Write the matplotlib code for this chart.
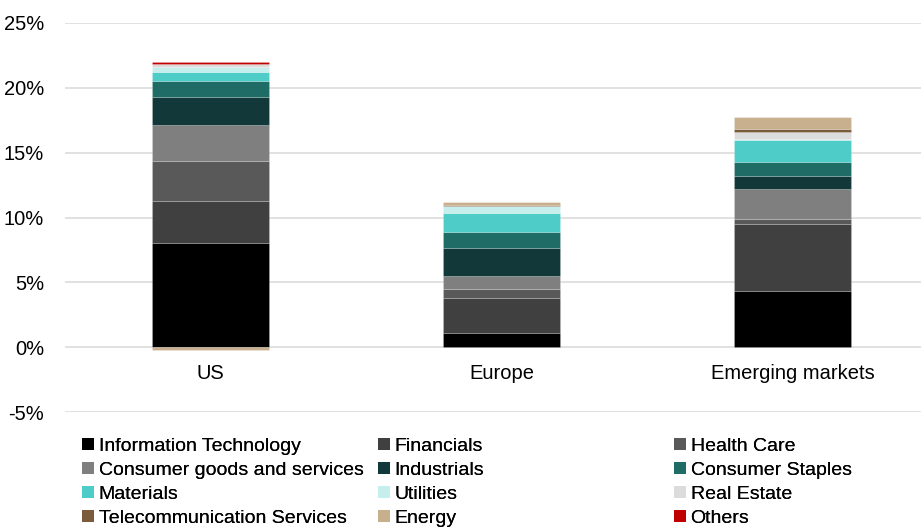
import matplotlib
matplotlib.use("Agg")
import matplotlib.pyplot as plt
from matplotlib.patches import Patch
from matplotlib.ticker import FuncFormatter
import numpy as np

plt.rcParams['font.family'] = ['Liberation Sans', 'DejaVu Sans']

regions = ["US", "Europe", "Emerging markets"]

sectors = ["Information Technology", "Financials", "Health Care",
           "Consumer goods and services", "Industrials", "Consumer Staples",
           "Materials", "Utilities", "Real Estate",
           "Telecommunication Services", "Energy", "Others"]

colors = ["#000000", "#404040", "#595959",
          "#7f7f7f", "#12383a", "#1f6b66",
          "#4ecdc8", "#c5eeec", "#dcdcdc",
          "#7a5c3c", "#c8af8e", "#c00000"]

# sector weights in % per region (rows follow the sectors list)
us = [8.0, 3.3, 3.05, 2.8, 2.12, 1.23, 0.7, 0.38, 0.28, 0.0, -0.25, 0.12]
europe = [1.1, 2.7, 0.67, 1.02, 2.16, 1.21, 1.49, 0.51, 0.0, 0.08, 0.23, 0.0]
emerging = [4.35, 5.14, 0.4, 2.29, 1.0, 1.08, 1.72, 0.08, 0.51, 0.26, 0.9, 0.0]

yticks = [-5, 0, 5, 10, 15, 20, 25]

data = np.array([us, europe, emerging]).T
x = np.arange(len(regions))

fig = plt.figure(figsize=(9.21, 5.32), dpi=100)
ax = fig.add_axes([65 / 921, 120 / 532, 873 / 921, 389 / 532])

pos_base = np.zeros(len(regions))
neg_base = np.zeros(len(regions))
for vals, col in zip(data, colors):
    base = np.where(vals >= 0, pos_base, neg_base)
    ax.bar(x, vals, 0.4, bottom=base, color=col,
           edgecolor=(1, 1, 1, 0.25), linewidth=0.5, zorder=3)
    pos_base += np.clip(vals, 0, None)
    neg_base += np.clip(vals, None, 0)

ax.set_xlim(-0.5, 2.5)
ax.set_ylim(-5, 25)
ax.set_yticks(yticks)
ax.yaxis.set_major_formatter(FuncFormatter(lambda v, p: f"{v:.0f}%"))
ax.set_xticks(x)
ax.set_xticklabels(regions)
ax.yaxis.grid(True, color="#d9d9d9", linewidth=1.1, zorder=0)
for s in ax.spines.values():
    s.set_visible(False)
ax.spines['bottom'].set_position(('data', 0))
ax.tick_params(axis='both', length=0, labelsize=14.5)
ax.tick_params(axis='y', pad=15)
ax.tick_params(axis='x', pad=12)

# three legend columns, row-major order like the chart source
handles = [Patch(facecolor=c, edgecolor='none') for c in colors]
col_x = [82, 378, 674]
for j in range(3):
    idx = [j, j + 3, j + 6, j + 9]
    leg = fig.legend([handles[i] for i in idx], [sectors[i] for i in idx],
                     loc='upper left', bbox_to_anchor=(col_x[j] / 921, 1 - 438 / 532),
                     frameon=False, fontsize=14, borderpad=0, borderaxespad=0,
                     handlelength=0.6, handleheight=0.6, handletextpad=0.25,
                     labelspacing=0.36)
    fig.add_artist(leg)

fig.savefig("out.png", dpi=100)
